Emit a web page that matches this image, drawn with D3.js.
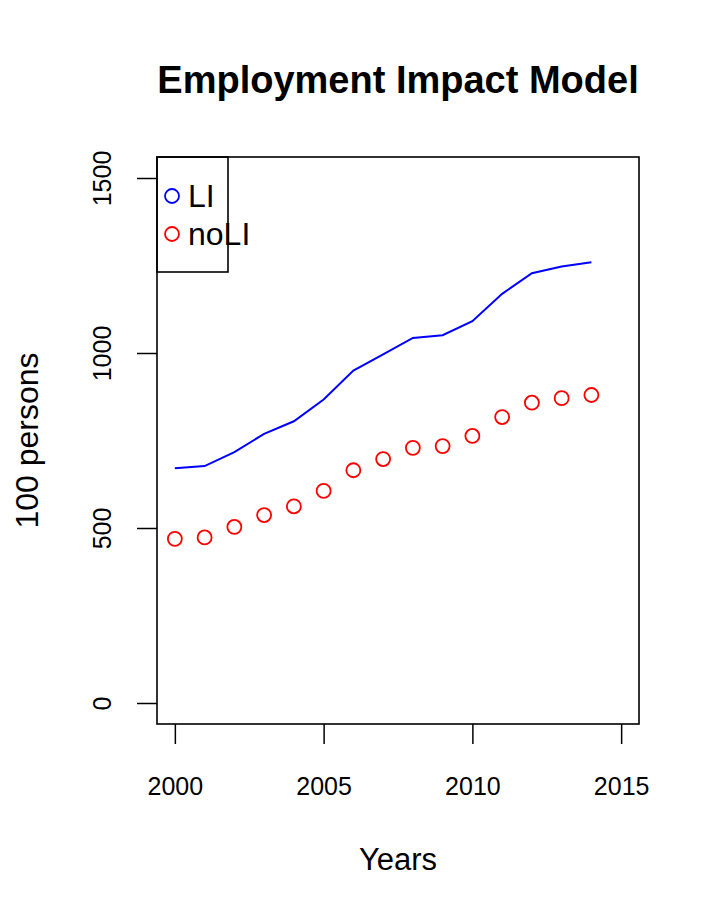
<!DOCTYPE html>
<html>
<head>
<meta charset="utf-8">
<script src="https://cdn.jsdelivr.net/npm/d3@7"></script>
<style>
  html, body { margin: 0; padding: 0; background: #ffffff; }
  svg { display: block; font-family: "Liberation Sans", Arial, Helvetica, sans-serif; }
</style>
</head>
<body>
<svg id="chart" width="720" height="921"></svg>
<script>
const years = [2000, 2001, 2002, 2003, 2004, 2005, 2006, 2007, 2008, 2009, 2010, 2011, 2012, 2013, 2014];
const seriesLI = [671, 677, 717, 769, 805, 867, 950, 996, 1043, 1051, 1091, 1169, 1228, 1247, 1259];
const seriesNoLI = [469, 473, 503, 537, 562, 606, 665, 697, 729, 734, 763, 817, 858, 871, 880];
const xTicks = [2000, 2005, 2010, 2015];
const yTicks = [0, 500, 1000, 1500];
const legendLabels = ["LI", "noLI"];
const legendColors = ["#0000ff", "#ff0000"];

const svg = d3.select("#chart");
const box = { left: 157, right: 639, top: 157, bottom: 724 };

// R-style 4% extension of xlim c(2000,2015) and ylim c(0,1500)
const x = d3.scaleLinear().domain([2000 - 0.6, 2015 + 0.6]).range([box.left, box.right]);
const y = d3.scaleLinear().domain([-60, 1560]).range([box.bottom, box.top]);

// Title
svg.append("text")
  .attr("x", (box.left + box.right) / 2)
  .attr("y", 93)
  .attr("text-anchor", "middle")
  .attr("font-weight", "bold")
  .attr("font-size", 38)
  .text("Employment Impact Model");

// Axes
const xAxis = svg.append("g")
  .attr("transform", `translate(0,${box.bottom})`)
  .call(d3.axisBottom(x).tickValues(xTicks).tickFormat(d3.format("d")).tickSize(20).tickPadding(33));
xAxis.select(".domain").remove();
xAxis.selectAll(".tick line").attr("stroke", "#000").attr("stroke-width", 1.5);
xAxis.selectAll(".tick text").attr("font-size", 25).attr("fill", "#000")
  .attr("font-family", "Liberation Sans, Arial, sans-serif");

const yAxis = svg.append("g")
  .attr("transform", `translate(${box.left},0)`)
  .call(d3.axisLeft(y).tickValues(yTicks).tickFormat(d3.format("d")).tickSize(20));
yAxis.select(".domain").remove();
yAxis.selectAll(".tick line").attr("stroke", "#000").attr("stroke-width", 1.5);
yAxis.selectAll(".tick text")
  .attr("font-size", 25).attr("fill", "#000")
  .attr("font-family", "Liberation Sans, Arial, sans-serif")
  .attr("transform", "rotate(-90)")
  .attr("x", 0).attr("y", -46).attr("dy", null)
  .attr("text-anchor", "middle");

// Axis titles
svg.append("text")
  .attr("x", (box.left + box.right) / 2)
  .attr("y", 870)
  .attr("text-anchor", "middle")
  .attr("font-size", 31)
  .text("Years");

svg.append("text")
  .attr("transform", `translate(38,${(box.top + box.bottom) / 2}) rotate(-90)`)
  .attr("text-anchor", "middle")
  .attr("font-size", 32)
  .text("100 persons");

// LI line
const line = d3.line().x((d, i) => x(years[i])).y(d => y(d));
svg.append("path")
  .datum(seriesLI)
  .attr("d", line)
  .attr("fill", "none")
  .attr("stroke", legendColors[0])
  .attr("stroke-width", 2);

// noLI points
svg.append("g").selectAll("circle")
  .data(seriesNoLI)
  .join("circle")
  .attr("cx", (d, i) => x(years[i]))
  .attr("cy", d => y(d))
  .attr("r", 7)
  .attr("fill", "none")
  .attr("stroke", legendColors[1])
  .attr("stroke-width", 1.8);

// Plot box
svg.append("rect")
  .attr("x", box.left).attr("y", box.top)
  .attr("width", box.right - box.left).attr("height", box.bottom - box.top)
  .attr("fill", "none").attr("stroke", "#000").attr("stroke-width", 1.6);

// Legend
const legend = svg.append("g");
legend.append("rect")
  .attr("x", box.left).attr("y", box.top)
  .attr("width", 71).attr("height", 115)
  .attr("fill", "none").attr("stroke", "#000").attr("stroke-width", 1.6);
legendLabels.forEach((lab, i) => {
  const cy = 196 + i * 38;
  legend.append("circle")
    .attr("cx", 172).attr("cy", cy).attr("r", 7)
    .attr("fill", "none").attr("stroke", legendColors[i]).attr("stroke-width", 1.8);
  legend.append("text")
    .attr("x", 188).attr("y", cy + 11)
    .attr("font-size", 32)
    .text(lab);
});
</script>
</body>
</html>
